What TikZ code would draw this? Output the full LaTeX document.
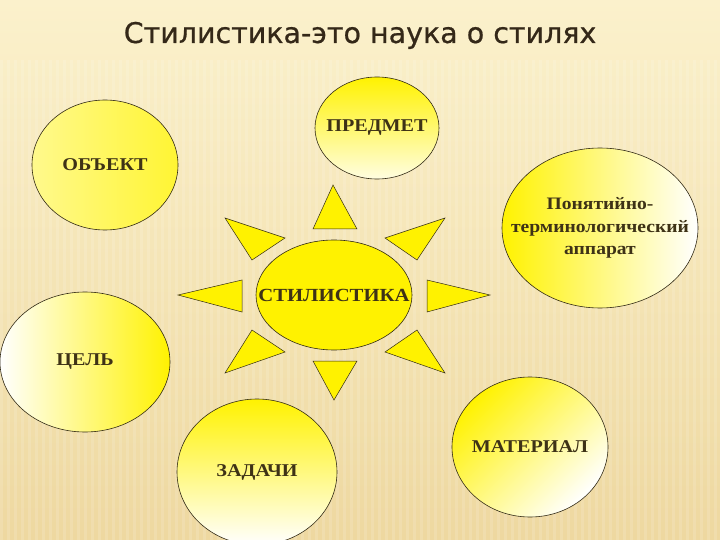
\documentclass[tikz,border=0pt]{standalone}
\usepackage{fontspec}
\setmainfont{Liberation Serif}
\newfontfamily\boxfont[FakeStretch=1.12]{Liberation Serif}
\newfontfamily\titlefont[FakeBold=0.7]{DejaVu Sans}
\usetikzlibrary{shapes.geometric}
\definecolor{sun}{RGB}{255,242,0}
\definecolor{bgtop}{RGB}{251,241,204}
\definecolor{bgbot}{RGB}{238,216,160}
\definecolor{ink}{RGB}{62,50,22}
\definecolor{head}{RGB}{52,40,24}
\definecolor{rim}{RGB}{50,42,20}
\tikzset{
	blob/.style={draw=rim,line width=0.6pt,ellipse,inner xsep=-25pt,inner ysep=0pt,align=center,text=ink,font=\boxfont\bfseries\fontsize{18}{22.5}\selectfont},
	hub/.style={blob,fill=sun,font=\boxfont\bfseries\fontsize{18.5}{22}\selectfont},
	ray/.style={draw=rim,line width=0.5pt,fill=sun,line join=miter}
}

\begin{document}
\begin{tikzpicture}[x=1pt,y=-1pt]
	\useasboundingbox (0,0) rectangle (720,540);
	\fill[top color=bgtop,bottom color=bgbot] (0,0) rectangle (720,540);
	\foreach \i in {0,7,...,720}
		\fill[white,opacity=0.13] (\i,60) rectangle +(3,480);
	\node[anchor=base,text=head,font=\titlefont\fontsize{28.5}{32}\selectfont] (title) at (360,43) {Стилистика-это наука о стилях};

	\draw[ray] (333,185) -- (357,229) -- (313,229) -- cycle;
	\draw[ray] (225,218) -- (285,238) -- (252,260) -- cycle;
	\draw[ray] (445,218) -- (385,238) -- (417,260) -- cycle;
	\draw[ray] (178,295) -- (242,280) -- (242,312) -- cycle;
	\draw[ray] (490,295) -- (427,280) -- (427,312) -- cycle;
	\draw[ray] (225,373) -- (285,352) -- (252,330) -- cycle;
	\draw[ray] (445,373) -- (385,352) -- (417,330) -- cycle;
	\draw[ray] (334,400) -- (357,361) -- (313,361) -- cycle;

	\node[hub,minimum width=156pt,minimum height=110pt] (stil) at (334,295) {СТИЛИСТИКА};

	\node[blob,minimum width=146pt,minimum height=130pt,left color=sun!45!white,right color=sun!80!white] (obj) at (105,165) {ОБЪЕКТ};
	\node[blob,minimum width=124pt,minimum height=102pt,top color=sun,bottom color=sun!12!white] (pred) at (377,128) {ПРЕДМЕТ};
	\node[blob,minimum width=196pt,minimum height=160pt,left color=sun,right color=white,font=\boxfont\bfseries\fontsize{17.5}{22.5}\selectfont] (app) at (600,228) {Понятийно-\\терминологический\\аппарат};
	\node[blob,minimum width=170pt,minimum height=140pt,left color=white,right color=sun] (goal) at (85,362) {ЦЕЛЬ};
	\node[blob,minimum width=160pt,minimum height=146pt,top color=sun,bottom color=white] (task) at (257,472) {ЗАДАЧИ};
	\node[blob,minimum width=156pt,minimum height=140pt,shading=axis,top color=sun,bottom color=white,shading angle=45] (mat) at (530,447) {МАТЕРИАЛ};
\end{tikzpicture}
\end{document}
